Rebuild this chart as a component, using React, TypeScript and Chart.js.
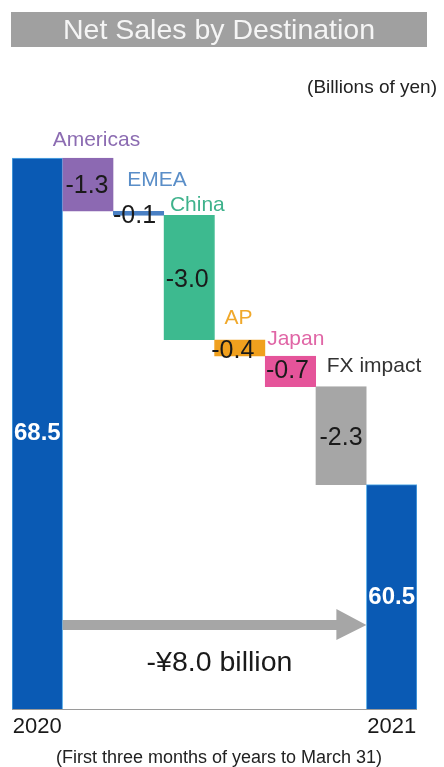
import React, { useEffect, useRef } from "react";
import { Chart, registerables } from "chart.js";

Chart.register(...registerables);

// ---- data ----
const categories = ["2020", "Americas", "EMEA", "China", "AP", "Japan", "FX impact", "2021"];
const totals = [68.5, 60.5];
const changes = [-1.3, -0.1, -3.0, -0.4, -0.7, -2.3];
// running level after each step, as drawn in the picture
const stepLevels = [68.5, 67.2, 67.1, 64.05, 63.65, 62.9, 60.5];
const totalChangeLabel = "-¥8.0 billion";
const titleText = "Net Sales by Destination";
const unitText = "(Billions of yen)";
const footText = "(First three months of years to March 31)";

// ---- styles ----
const FONT = '"Liberation Sans", Arial, sans-serif';
const BLUE = "#0a5ab4";
const barColors = [BLUE, "#8c69b2", "#4a80c4", "#3dba8f", "#f0a01e", "#e5549a", "#a6a6a6", BLUE];
const labelColors = ["", "#8c6cb2", "#5a8ec8", "#3fb28c", "#f0a82a", "#e066a6", "#333333", ""];
// category label offsets relative to bar's left/top edges
const labelOffsets = [null, [-10, -18], [14, -31], [6, -10], [10, -22], [2, -17], [11, -20], null];
// value label offsets relative to bar centre
const valueOffsets = [[0, 0], [-1, 1], [-4, 3], [-2, 3], [-7, 3], [-3, 0], [0, 2], [0, 1]];

export default function App() {
  const ref = useRef<HTMLCanvasElement | null>(null);

  useEffect(() => {
    const canvas = ref.current;
    if (!canvas) return;
    const data: any[] = [
      totals[0],
      ...changes.map((_, i) => [stepLevels[i + 1], stepLevels[i]]),
      totals[1],
    ];
    const valueTexts = [
      totals[0].toFixed(1),
      ...changes.map((c) => c.toFixed(1)),
      totals[1].toFixed(1),
    ];

    const overlay = {
      id: "overlay",
      afterDraw(chart: any) {
        const ctx = chart.ctx as CanvasRenderingContext2D;
        const xs = chart.scales.x;
        const ys = chart.scales.y;
        const area = chart.chartArea;
        const meta = chart.getDatasetMeta(0);
        const n = categories.length;
        ctx.save();

        // title
        ctx.fillStyle = "#a0a0a0";
        ctx.fillRect(11, 12, 416, 35);
        ctx.fillStyle = "#f5f5f5";
        ctx.font = `28.5px ${FONT}`;
        ctx.textAlign = "center";
        ctx.textBaseline = "middle";
        ctx.fillText(titleText, 219, 31);

        // unit
        ctx.fillStyle = "#222";
        ctx.font = `19px ${FONT}`;
        ctx.textAlign = "right";
        ctx.fillText(unitText, 437, 88);

        // baseline
        ctx.strokeStyle = "#9a9a9a";
        ctx.lineWidth = 1;
        ctx.beginPath();
        ctx.moveTo(area.left, area.bottom + 0.5);
        ctx.lineTo(area.right, area.bottom + 0.5);
        ctx.stroke();

        // bars' labels
        for (let i = 0; i < n; i++) {
          const isTotal = i === 0 || i === n - 1;
          const cx = xs.getPixelForValue(i);
          const w = meta.data[i].width || (area.right - area.left) / n;
          const left = cx - w / 2;
          let top: number, bottom: number;
          if (isTotal) {
            top = ys.getPixelForValue(i === 0 ? totals[0] : totals[1]);
            bottom = area.bottom;
          } else {
            const a = ys.getPixelForValue(stepLevels[i - 1]);
            const b = ys.getPixelForValue(stepLevels[i]);
            top = Math.min(a, b);
            bottom = Math.max(a, b);
          }
          const mid = (top + bottom) / 2;
          const vo = valueOffsets[i];
          ctx.textAlign = "center";
          ctx.textBaseline = "middle";
          if (isTotal) {
            ctx.fillStyle = "#ffffff";
            ctx.font = `bold 24px ${FONT}`;
          } else {
            ctx.fillStyle = "#1a1a1a";
            ctx.font = `25px ${FONT}`;
          }
          ctx.fillText(valueTexts[i], cx + vo[0], mid + vo[1]);

          const lo = labelOffsets[i];
          if (lo) {
            ctx.textAlign = "left";
            ctx.fillStyle = labelColors[i];
            ctx.font = `21px ${FONT}`;
            ctx.fillText(categories[i], left + lo[0], top + lo[1]);
          } else {
            ctx.textAlign = "center";
            ctx.fillStyle = "#1a1a1a";
            ctx.font = `22px ${FONT}`;
            ctx.fillText(categories[i], cx, area.bottom + 18);
          }
        }

        // arrow between totals
        const w0 = meta.data[0].width || (area.right - area.left) / n;
        const x0 = xs.getPixelForValue(0) + w0 / 2;
        const x1 = xs.getPixelForValue(n - 1) - w0 / 2;
        const ay = area.bottom - 84;
        ctx.fillStyle = "#a6a6a6";
        ctx.beginPath();
        ctx.moveTo(x0, ay - 5);
        ctx.lineTo(x1 - 30, ay - 5);
        ctx.lineTo(x1 - 30, ay - 16);
        ctx.lineTo(x1, ay);
        ctx.lineTo(x1 - 30, ay + 15);
        ctx.lineTo(x1 - 30, ay + 5);
        ctx.lineTo(x0, ay + 5);
        ctx.closePath();
        ctx.fill();

        ctx.fillStyle = "#1a1a1a";
        ctx.font = `28.5px ${FONT}`;
        ctx.textAlign = "center";
        ctx.textBaseline = "middle";
        ctx.fillText(totalChangeLabel, (x0 + x1) / 2 + 5, area.bottom - 46);

        // footnote
        ctx.font = `18px ${FONT}`;
        ctx.fillStyle = "#222";
        ctx.fillText(footText, 219, 758);
        ctx.restore();
      },
    };

    const chart = new Chart(canvas, {
      type: "bar",
      data: {
        labels: categories,
        datasets: [
          {
            data,
            backgroundColor: barColors,
            borderColor: barColors.map((c) => (c === BLUE ? "#5aaee8" : c)),
            borderWidth: 1,
            borderSkipped: false,
            barPercentage: 1,
            categoryPercentage: 1,
          },
        ],
      },
      options: {
        responsive: false,
        animation: false,
        devicePixelRatio: 1,
        layout: { padding: { left: 12, right: 27, top: 97, bottom: 58 } },
        plugins: { legend: { display: false }, tooltip: { enabled: false } },
        scales: {
          x: { display: false },
          y: { display: false, min: 55, max: 70 },
        },
      },
      plugins: [overlay],
    });
    return () => chart.destroy();
  }, []);

  return (
    <canvas
      ref={ref}
      width={444}
      height={767}
      style={{ position: "absolute", left: 0, top: 0, width: 444, height: 767, display: "block" }}
    />
  );
}
